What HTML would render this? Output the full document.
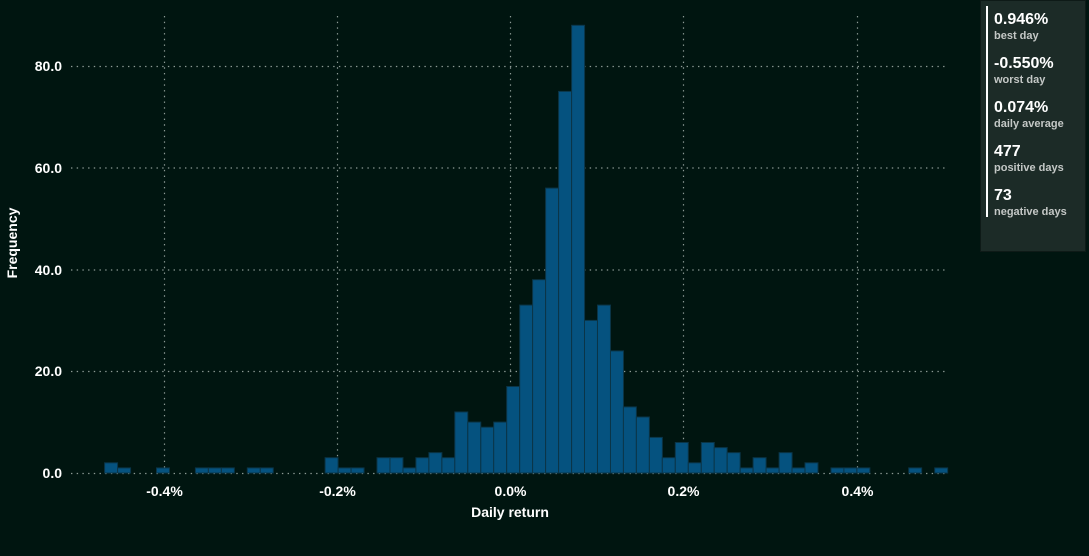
<!DOCTYPE html>
<html><head><meta charset="utf-8"><style>
html,body{margin:0;padding:0;background:#001510;}
svg{display:block;font-family:"Liberation Sans",sans-serif;}
</style></head><body>
<svg width="1089" height="556" viewBox="0 0 1089 556">
<rect width="1089" height="556" fill="#001510"/>
<g stroke="#8c9a95" stroke-width="1.2" stroke-dasharray="1.4 4.3" fill="none">
<line x1="71" y1="66.5" x2="945" y2="66.5"/>
<line x1="71" y1="168" x2="945" y2="168"/>
<line x1="71" y1="270" x2="945" y2="270"/>
<line x1="71" y1="371.5" x2="945" y2="371.5"/>
<line x1="71" y1="473.5" x2="945" y2="473.5"/>
<line x1="164.5" y1="16" x2="164.5" y2="473"/>
<line x1="337.5" y1="16" x2="337.5" y2="473"/>
<line x1="510.5" y1="16" x2="510.5" y2="473"/>
<line x1="683.5" y1="16" x2="683.5" y2="473"/>
<line x1="857.5" y1="16" x2="857.5" y2="473"/>
</g>
<g fill="#05527f" stroke="#0a3548" stroke-width="1">
<rect x="104.6" y="462.8" width="12.97" height="10.2"/>
<rect x="117.6" y="467.9" width="12.97" height="5.1"/>
<rect x="156.5" y="467.9" width="12.97" height="5.1"/>
<rect x="195.4" y="467.9" width="12.97" height="5.1"/>
<rect x="208.4" y="467.9" width="12.97" height="5.1"/>
<rect x="221.4" y="467.9" width="12.97" height="5.1"/>
<rect x="247.3" y="467.9" width="12.97" height="5.1"/>
<rect x="260.3" y="467.9" width="12.97" height="5.1"/>
<rect x="325.1" y="457.7" width="12.97" height="15.3"/>
<rect x="338.1" y="467.9" width="12.97" height="5.1"/>
<rect x="351.1" y="467.9" width="12.97" height="5.1"/>
<rect x="377.0" y="457.7" width="12.97" height="15.3"/>
<rect x="390.0" y="457.7" width="12.97" height="15.3"/>
<rect x="403.0" y="467.9" width="12.97" height="5.1"/>
<rect x="415.9" y="457.7" width="12.97" height="15.3"/>
<rect x="428.9" y="452.65" width="12.97" height="20.35"/>
<rect x="441.9" y="457.7" width="12.97" height="15.3"/>
<rect x="454.8" y="411.95" width="12.97" height="61.05"/>
<rect x="467.8" y="422.1" width="12.97" height="50.9"/>
<rect x="480.8" y="427.2" width="12.97" height="45.8"/>
<rect x="493.7" y="422.1" width="12.97" height="50.9"/>
<rect x="506.7" y="386.5" width="12.97" height="86.5"/>
<rect x="519.7" y="305.1" width="12.97" height="167.9"/>
<rect x="532.6" y="279.7" width="12.97" height="193.3"/>
<rect x="545.6" y="188.1" width="12.97" height="284.9"/>
<rect x="558.6" y="91.4" width="12.97" height="381.6"/>
<rect x="571.6" y="25.3" width="12.97" height="447.7"/>
<rect x="584.5" y="320.4" width="12.97" height="152.6"/>
<rect x="597.5" y="305.1" width="12.97" height="167.9"/>
<rect x="610.5" y="350.9" width="12.97" height="122.1"/>
<rect x="623.4" y="406.9" width="12.97" height="66.1"/>
<rect x="636.4" y="417" width="12.97" height="56"/>
<rect x="649.4" y="437.4" width="12.97" height="35.6"/>
<rect x="662.3" y="457.7" width="12.97" height="15.3"/>
<rect x="675.3" y="442.5" width="12.97" height="30.5"/>
<rect x="688.3" y="462.8" width="12.97" height="10.2"/>
<rect x="701.3" y="442.5" width="12.97" height="30.5"/>
<rect x="714.2" y="447.6" width="12.97" height="25.4"/>
<rect x="727.2" y="452.65" width="12.97" height="20.35"/>
<rect x="740.2" y="467.9" width="12.97" height="5.1"/>
<rect x="753.1" y="457.7" width="12.97" height="15.3"/>
<rect x="766.1" y="467.9" width="12.97" height="5.1"/>
<rect x="779.1" y="452.65" width="12.97" height="20.35"/>
<rect x="792.0" y="467.9" width="12.97" height="5.1"/>
<rect x="805.0" y="462.8" width="12.97" height="10.2"/>
<rect x="831.0" y="467.9" width="12.97" height="5.1"/>
<rect x="843.9" y="467.9" width="12.97" height="5.1"/>
<rect x="856.9" y="467.9" width="12.97" height="5.1"/>
<rect x="908.7" y="467.9" width="12.97" height="5.1"/>
<rect x="934.7" y="467.9" width="12.97" height="5.1"/>
</g>
<g fill="#ffffff" font-weight="bold" font-size="14" text-anchor="end">
<text x="62" y="71">80.0</text>
<text x="62" y="173">60.0</text>
<text x="62" y="275">40.0</text>
<text x="62" y="376">20.0</text>
<text x="62" y="478">0.0</text>
</g>
<g fill="#ffffff" font-size="14" font-weight="bold" text-anchor="middle">
<text x="164.5" y="496">-0.4%</text>
<text x="337.5" y="496">-0.2%</text>
<text x="510.5" y="496">0.0%</text>
<text x="683.5" y="496">0.2%</text>
<text x="857.5" y="496">0.4%</text>
<text x="510" y="517">Daily return</text>
<text transform="translate(17,243) rotate(-90)">Frequency</text>
</g>
<rect x="980.5" y="0.5" width="105" height="251" fill="#1c2b27" stroke="#0e1a17"/>
<rect x="986" y="6" width="2" height="211" fill="#ffffff"/>
<g font-weight="bold">
<text x="994" y="24" fill="#ffffff" font-size="16">0.946%</text>
<text x="994" y="39" fill="#c4c8c6" font-size="11">best day</text>
<text x="994" y="68" fill="#ffffff" font-size="16">-0.550%</text>
<text x="994" y="83" fill="#c4c8c6" font-size="11">worst day</text>
<text x="994" y="112" fill="#ffffff" font-size="16">0.074%</text>
<text x="994" y="127" fill="#c4c8c6" font-size="11">daily average</text>
<text x="994" y="156" fill="#ffffff" font-size="16">477</text>
<text x="994" y="171" fill="#c4c8c6" font-size="11">positive days</text>
<text x="994" y="200" fill="#ffffff" font-size="16">73</text>
<text x="994" y="215" fill="#c4c8c6" font-size="11">negative days</text>
</g>
</svg>
</body></html>
